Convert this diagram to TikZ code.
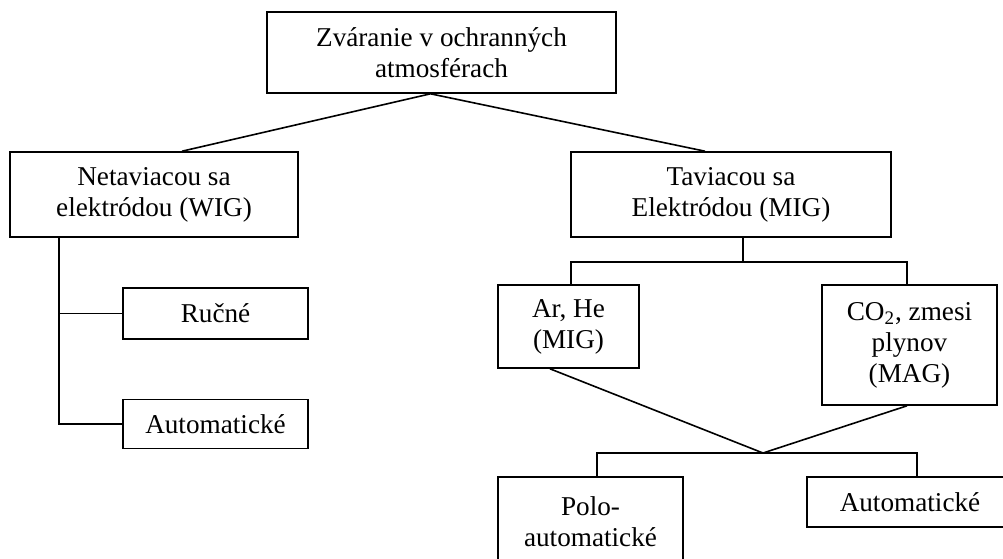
\documentclass[tikz,border=0pt]{standalone}
\usepackage{fontspec}
\setmainfont{Liberation Serif}
\usetikzlibrary{positioning}

\begin{document}
\begin{tikzpicture}[x=0.5pt, y=-0.5pt, line width=0.8pt,
    box/.style={draw, align=center, inner sep=0pt,
      font=\fontsize{13.6}{15.5}\selectfont}]
    \useasboundingbox (0,0) rectangle (1003,558);

    \node[box, minimum width=174.5pt, minimum height=40.5pt] (root) at (441.5,52.5)
      {Zváranie v ochranných\\atmosférach};
    \node[box, minimum width=144pt, minimum height=42.5pt] (wig) at (154,194.5)
      {Netaviacou sa\\elektródou (WIG)};
    \node[box, minimum width=160pt, minimum height=42.5pt] (mig) at (731,194.5)
      {Taviacou sa\\Elektródou (MIG)};
    \node[box, minimum width=92.5pt, minimum height=25.5pt] (rucne) at (215.5,313.5) {Ručné};
    \node[box, minimum width=92.5pt, minimum height=24.5pt, below=29.5pt of rucne] (autwig)
      {Automatické};
    \node[box, minimum width=70.5pt, minimum height=41.5pt] (arhe) at (568.5,326.5)
      {Ar, He\\(MIG)};
    \node[box, minimum width=87.5pt, minimum height=60pt] (co2) at (909.5,345)
      {CO\textsubscript{2}, zmesi\\plynov\\(MAG)};
    \node[box, minimum width=92.5pt, minimum height=45pt] (polo) at (590.5,522)
      {Polo-\\automatické};
    \node[box, minimum width=103pt, minimum height=25pt] (autmig) at (910,502)
      {Automatické};

    \coordinate (wl) at (59,237);
    \coordinate (mj) at (743,262);
    \coordinate (lj) at (763,453);

    \draw ([xshift=14pt]wig.north) -- ([xshift=-5.5pt]root.south) -- ([xshift=-13pt]mig.north);
    \draw (wl) |- (autwig.west);
    \draw (rucne.west) -- (rucne.west -| wl);
    \draw ([xshift=6pt]mig.south) -- (mj);
    \draw ([xshift=1.25pt]arhe.north) |- (mj) -| ([xshift=-1.25pt]co2.north);
    \draw ([xshift=-9.25pt]arhe.south) -- (lj) -- ([xshift=-1.25pt]co2.south);
    \draw ([xshift=3.25pt]polo.north) |- (lj) -| ([xshift=3.5pt]autmig.north);
\end{tikzpicture}
\end{document}
